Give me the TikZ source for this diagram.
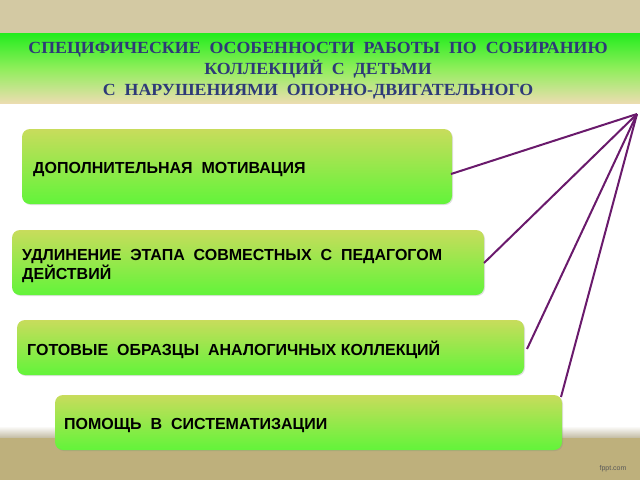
\documentclass[tikz,border=0pt]{standalone}
\usepackage{fontspec}
\setmainfont{Liberation Serif}
\newfontfamily\boxfont{Liberation Sans}
\newfontfamily\hdrfont[FakeStretch=1.05]{Liberation Serif}
\usetikzlibrary{shadows}
\definecolor{topband}{HTML}{D3C9A3}
\definecolor{botband}{HTML}{BEB07C}
\definecolor{hdrtop}{HTML}{22EC1E}
\definecolor{hdrmid}{HTML}{8EEE5A}
\definecolor{hdrbot}{HTML}{EBDDB0}
\definecolor{hdrtext}{HTML}{2E3A78}
\definecolor{boxtop}{HTML}{C8DC5C}
\definecolor{boxbot}{HTML}{62F43A}
\definecolor{linkcol}{HTML}{6A1A6C}
\tikzset{
  itembox/.style={rounded corners=8pt, top color=boxtop, bottom color=boxbot, draw=none,
    drop shadow={shadow xshift=1pt, shadow yshift=-1pt, opacity=0.25}},
  itemtext/.style={anchor=west, font=\boxfont\bfseries\fontsize{16}{17.5}\selectfont, text=black, align=left, inner sep=0pt},
  link/.style={draw=linkcol, line width=2pt}
}
\begin{document}
\begin{tikzpicture}[x=1pt,y=-1pt]
\useasboundingbox (0,0) rectangle (640,480);
% background
\fill[white] (0,0) rectangle (640,480);
\fill[topband] (0,0) rectangle (640,33);
\shade[top color=white, bottom color=botband!80!black!60] (0,426) rectangle (640,438);
\fill[botband] (0,438) rectangle (640,480);
% header
\shade[top color=hdrtop, bottom color=hdrbot, middle color=hdrmid] (0,33) rectangle (640,103);
\node[font=\hdrfont\bfseries\fontsize{17}{21}\selectfont, text=hdrtext, align=center, inner sep=0pt] (hdr) at (318,71)
  {СПЕЦИФИЧЕСКИЕ\ \ ОСОБЕННОСТИ\ \ РАБОТЫ\ \ ПО\ \ СОБИРАНИЮ\\КОЛЛЕКЦИЙ\ \ С\ \ ДЕТЬМИ\\С\ \ НАРУШЕНИЯМИ\ \ ОПОРНО-ДВИГАТЕЛЬНОГО};
% boxes
\path[itembox] (22,129) rectangle (452,204);
\path[itembox] (12,230) rectangle (484,295);
\path[itembox] (17,320) rectangle (524,375);
\path[itembox] (55,395) rectangle (562,450);
\coordinate (b1) at (451,174);
\coordinate (b2) at (484,263);
\coordinate (b3) at (527,349);
\coordinate (b4) at (561,397);
\node[itemtext] (t1) at (33,170) {ДОПОЛНИТЕЛЬНАЯ\ \ МОТИВАЦИЯ};
\node[itemtext] (t2) at (22,266) {УДЛИНЕНИЕ\ \ ЭТАПА\ \ СОВМЕСТНЫХ\ \ С\ \ ПЕДАГОГОМ\\ДЕЙСТВИЙ};
\node[itemtext] (t3) at (27,350) {ГОТОВЫЕ\ \ ОБРАЗЦЫ\ \ АНАЛОГИЧНЫХ КОЛЛЕКЦИЙ};
\node[itemtext] (t4) at (64,426) {ПОМОЩЬ\ \ В\ \ СИСТЕМАТИЗАЦИИ};
% connectors
\coordinate (hub) at (637,114);
\draw[link] (hub) -- (b1);
\draw[link] (hub) -- (b2);
\draw[link] (hub) -- (b3);
\draw[link] (hub) -- (b4);
\node[font=\boxfont\fontsize{7}{8}\selectfont, text=black!65] (fppt) at (613,469) {fppt.com};
\end{tikzpicture}
\end{document}
